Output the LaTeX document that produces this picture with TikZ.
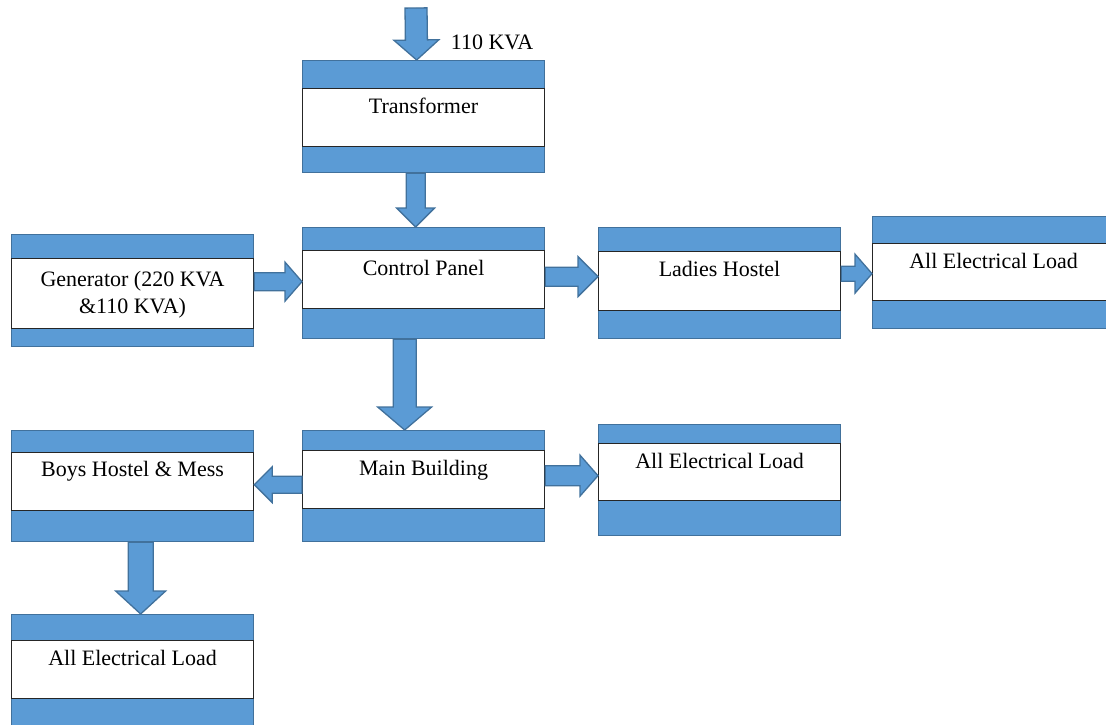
\documentclass[tikz,border=0pt]{standalone}
\usepackage{fontspec}
\setmainfont{Liberation Serif}
\usetikzlibrary{calc,positioning}

\definecolor{bandfill}{HTML}{5B9BD5}
\definecolor{bandline}{HTML}{41719C}
\definecolor{plateline}{HTML}{262626}

% block arrow: start, tip, half shaft, half head, head length
\newcommand{\blockarrow}[5]{%
  \coordinate (ba-a) at (#1);
  \coordinate (ba-b) at (#2);
  \coordinate (ba-h) at ($(ba-b)!#5!(ba-a)$);
  \draw[flow] ($(ba-a)!#3!90:(ba-b)$) -- ($(ba-h)!#3!90:(ba-b)$)
    -- ($(ba-h)!#4!90:(ba-b)$) -- (ba-b) -- ($(ba-h)!#4!-90:(ba-b)$)
    -- ($(ba-h)!#3!-90:(ba-b)$) -- ($(ba-a)!#3!-90:(ba-b)$) -- cycle;}

\begin{document}
\begin{tikzpicture}[x=1pt, y=-1pt,
    band/.style={draw=bandline, fill=bandfill, line width=1.3pt,
      minimum width=242pt, inner sep=0pt, anchor=north west},
    plate/.style={draw=plateline, fill=white, line width=1.1pt,
      minimum width=242pt, inner sep=0pt, anchor=north west},
    tag/.style={inner sep=0pt, anchor=north, align=center,
      font=\fontsize{22}{27}\selectfont},
    flow/.style={draw=bandline, fill=bandfill, line width=1.3pt, line join=miter}]

  \useasboundingbox (0,0) rectangle (1106,725);

  % Boxes
  \node[band, minimum height=112pt] (tr) at (302,60) {};
  \node[plate, minimum height=58pt] (trp) at (302,88) {};
  \node[tag] (trt) at ([yshift=-10pt]trp.north) {Transformer};

  \node[band, minimum height=111pt] (cp) at (302,227) {};
  \node[plate, minimum height=58pt] (cpp) at (302,250) {};
  \node[tag] (cpt) at ([yshift=-10pt]cpp.north) {Control Panel};

  \node[band, minimum height=112pt] (gen) at (11,234) {};
  \node[plate, minimum height=70pt] (genp) at (11,258) {};
  \node[tag] (gent) at ([yshift=-13pt]genp.north) {Generator (220 KVA\\\&110 KVA)};

  \node[band, minimum height=111pt] (lh) at (598,227) {};
  \node[plate, minimum height=59pt] (lhp) at (598,251) {};
  \node[tag] (lht) at ([yshift=-10pt]lhp.north) {Ladies Hostel};

  \node[band, minimum height=112pt] (load1) at (872,216) {};
  \node[plate, minimum height=57pt] (load1p) at (872,243) {};
  \node[tag] (load1t) at ([yshift=-10pt]load1p.north) {All Electrical Load};

  \node[band, minimum height=111pt] (mb) at (302,430) {};
  \node[plate, minimum height=58pt] (mbp) at (302,450) {};
  \node[tag] (mbt) at ([yshift=-10pt]mbp.north) {Main Building};

  \node[band, minimum height=111pt] (load2) at (598,424) {};
  \node[plate, minimum height=57pt] (load2p) at (598,443) {};
  \node[tag] (load2t) at ([yshift=-10pt]load2p.north) {All Electrical Load};

  \node[band, minimum height=111pt] (boys) at (11,430) {};
  \node[plate, minimum height=58pt] (boysp) at (11,452) {};
  \node[tag] (boyst) at ([yshift=-9pt]boysp.north) {Boys Hostel \& Mess};

  \node[band, minimum height=112pt] (load3) at (11,614) {};
  \node[plate, minimum height=58pt] (load3p) at (11,640) {};
  \node[tag] (load3t) at ([yshift=-10pt]load3p.north) {All Electrical Load};

  \node[tag, anchor=base west] (kva) at ([xshift=27pt, yshift=10pt]tr.north) {110 KVA};

  % Arrows
  \coordinate (supply) at (416,8);
  \blockarrow{supply}{[xshift=-7pt]tr.north}{11pt}{22.5pt}{20pt}
  \blockarrow{[xshift=-8pt]tr.south}{[xshift=-8pt]cp.north}{9.5pt}{19pt}{19pt}
  \blockarrow{[yshift=9pt]gen.east}{[yshift=1.5pt]cp.west}{9pt}{19.5pt}{17pt}
  \blockarrow{[yshift=6.5pt]cp.east}{[yshift=6.5pt]lh.west}{9.5pt}{20pt}{20pt}
  \blockarrow{[yshift=9.5pt]lh.east}{[yshift=-1pt]load1.west}{7.5pt}{19.5pt}{17pt}
  \blockarrow{[xshift=-19pt]cp.south}{[xshift=-19pt]mb.north}{11.5pt}{27pt}{23pt}
  \blockarrow{[yshift=1.5pt]mb.west}{[yshift=1.5pt]boys.east}{8.5pt}{18pt}{18pt}
  \blockarrow{[yshift=10.5pt]mb.east}{[yshift=4.5pt]load2.west}{10pt}{20.5pt}{18pt}
  \blockarrow{[xshift=8pt]boys.south}{[xshift=8pt]load3.north}{12.5pt}{25pt}{23pt}
\end{tikzpicture}
\end{document}
